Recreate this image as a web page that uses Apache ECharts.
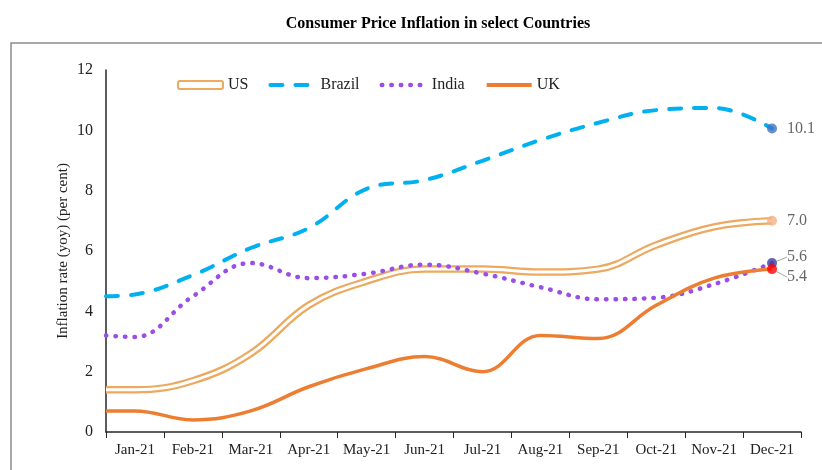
<!DOCTYPE html>
<html>
<head>
<meta charset="utf-8">
<script src="https://cdn.jsdelivr.net/npm/echarts@6/dist/echarts.min.js"></script>
<style>
  html, body { margin: 0; padding: 0; background: #fff; }
  #chart { width: 822px; height: 470px; }
</style>
</head>
<body>
<div id="chart"></div>
<script>
// Consumer price inflation, yoy per cent
const months = ['Jan-21', 'Feb-21', 'Mar-21', 'Apr-21', 'May-21', 'Jun-21',
                'Jul-21', 'Aug-21', 'Sep-21', 'Oct-21', 'Nov-21', 'Dec-21'];
const us     = [1.4, 1.7, 2.6, 4.2, 5.0, 5.4, 5.4, 5.3, 5.4, 6.2, 6.8, 7.0];
const brazil = [4.56, 5.20, 6.10, 6.76, 8.06, 8.35, 8.99, 9.68, 10.25, 10.67, 10.74, 10.06];
const india  = [3.15, 4.5, 5.6, 5.1, 5.25, 5.55, 5.25, 4.8, 4.4, 4.45, 4.9, 5.6];
const uk     = [0.7, 0.4, 0.7, 1.5, 2.1, 2.5, 2.0, 3.2, 3.1, 4.2, 5.1, 5.4];
// where each line meets the y axis (lines run in from the axis, left of Jan)
const axisEdge = [1.4, 4.5, 3.2, 0.7]; // US, Brazil, India, UK
const yTicks = [0, 12, 2]; // min, max, step

const FONT = '"Liberation Serif", "Times New Roman", serif';

function pts(edgeVal, vals) {
    return [[-0.5, edgeVal]].concat(vals.map((v, i) => [i, v]));
}

function endPoint(name, vals, color, layout) {
    return {
        name: name + '-end', type: 'scatter', xAxisIndex: 1, z: 10,
        symbolSize: 10, itemStyle: { color: color },
        data: [[vals.length - 1, vals[vals.length - 1]]],
        label: {
            show: true, position: 'right', distance: 10,
            formatter: p => p.value[1].toFixed(1),
            fontFamily: FONT, fontSize: 16, color: '#404040'
        },
        labelLayout: layout || null,
        labelLine: { show: !!layout, lineStyle: { color: '#a6a6a6', width: 1 } }
    };
}

// legend entries: line only, no marker dot
const noDot = { opacity: 0 };

const chart = echarts.init(document.getElementById('chart'));

chart.setOption({
    backgroundColor: '#fff',
    animation: false,
    title: {
        text: 'Consumer Price Inflation in select Countries',
        left: 433, top: 11, textAlign: 'center',
        textStyle: { fontFamily: FONT, fontSize: 16, fontWeight: 'bold', color: '#000' }
    },
    graphic: [{
        type: 'rect', silent: true,
        shape: { x: 11, y: 43, width: 840, height: 460 },
        style: { fill: 'none', stroke: '#8c8c8c', lineWidth: 1.5 }
    }],
    legend: {
        left: 172, top: 72, itemWidth: 45, itemHeight: 8, itemGap: 20,
        textStyle: { fontFamily: FONT, fontSize: 16, color: '#222' },
        data: [
            { name: 'US', icon: 'roundRect', itemStyle: { color: '#fff', borderColor: '#EDA95F', borderWidth: 2 } },
            { name: 'Brazil', itemStyle: noDot, lineStyle: { width: 4 } },
            { name: 'India', itemStyle: noDot, lineStyle: { width: 4.5 } },
            { name: 'UK', itemStyle: noDot, lineStyle: { width: 4 } }
        ]
    },
    grid: { left: 106, right: 21, top: 70, bottom: 38 },
    xAxis: [{
        type: 'category', data: months, boundaryGap: true,
        axisLine: { lineStyle: { color: '#262626', width: 1.5 } },
        axisTick: { show: true, length: 6, lineStyle: { color: '#262626' } },
        axisLabel: { fontFamily: FONT, fontSize: 15, color: '#222', margin: 11, interval: 0 },
        splitLine: { show: false }
    }, {
        type: 'value', min: -0.5, max: 11.5, show: false
    }],
    yAxis: {
        type: 'value', min: yTicks[0], max: yTicks[1], interval: yTicks[2],
        name: 'Inflation rate (yoy) (per cent)', nameLocation: 'middle', nameGap: 35,
        nameMoveOverlap: false,
        nameTextStyle: { fontFamily: FONT, fontSize: 15, color: '#222' },
        axisLine: { show: true, onZero: false, lineStyle: { color: '#262626', width: 1.5 } },
        axisTick: { show: false },
        axisLabel: { fontFamily: FONT, fontSize: 16, color: '#222', margin: 13 },
        splitLine: { show: false }
    },
    series: [
        {
            name: 'US', type: 'line', xAxisIndex: 1, smooth: 0.4, symbol: 'none',
            data: pts(axisEdge[0], us),
            lineStyle: { color: '#EDA95F', width: 7.5 }, itemStyle: { color: '#EDA95F' }
        },
        {
            name: 'US-inner', type: 'line', xAxisIndex: 1, smooth: 0.4, symbol: 'none',
            data: pts(axisEdge[0], us),
            lineStyle: { color: '#fff', width: 3 }, itemStyle: { color: '#fff' }
        },
        {
            name: 'India', type: 'line', xAxisIndex: 1, smooth: 0.4, symbol: 'none',
            data: pts(axisEdge[2], india),
            lineStyle: { color: '#9B4DE8', width: 4.5, type: [0.5, 9], cap: 'round' },
            itemStyle: { color: '#9B4DE8' }
        },
        {
            name: 'UK', type: 'line', xAxisIndex: 1, smooth: 0.4, symbol: 'none',
            data: pts(axisEdge[3], uk),
            lineStyle: { color: '#ED7D31', width: 3.5 }, itemStyle: { color: '#ED7D31' }
        },
        {
            name: 'Brazil', type: 'line', xAxisIndex: 1, smooth: 0.4, symbol: 'none',
            data: pts(axisEdge[1], brazil),
            lineStyle: { color: '#00B0F0', width: 4, type: [12, 13], cap: 'round' },
            itemStyle: { color: '#00B0F0' }
        },
        endPoint('Brazil', brazil, '#4472C4'),
        endPoint('US', us, '#F4B183'),
        endPoint('India', india, '#403D9A', { dy: -6 }),
        endPoint('UK', uk, '#FF0000', { dy: 8 })
    ]
});
</script>
</body>
</html>
